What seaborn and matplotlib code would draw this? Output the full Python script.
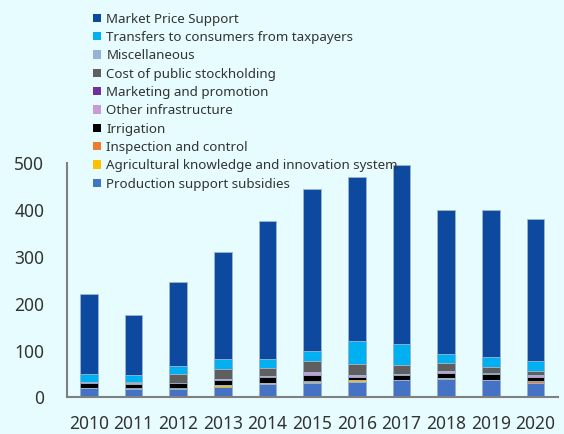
import numpy as np
import pandas as pd
import matplotlib.pyplot as plt
import seaborn as sns
from matplotlib.patches import Patch

years = ['2010', '2011', '2012', '2013', '2014', '2015', '2016', '2017', '2018', '2019', '2020']

# layers from bottom to top
production_support = [20.5, 18, 17, 23, 29, 31, 33, 37, 39, 37, 31]
akis = [0, 0, 0, 3, 2.5, 1, 5, 0, 3, 0, 0]
inspection = [0, 2.5, 2, 0, 0, 3, 0, 0, 0, 0, 3]
irrigation = [10.5, 8, 11, 11, 13, 12, 5, 10, 11, 13, 10]
other_infra = [1.5, 3, 0, 2, 2, 8, 5, 3, 3, 0, 3]
marketing = [0, 0, 0, 0, 0, 0, 0, 0, 0, 1.5, 0]
stockholding = [0.5, 1.5, 19, 21, 17, 23, 23, 20, 17, 13, 9]
miscellaneous = [0, 0, 0.5, 0, 0, 0, 0, 0, 0, 0, 1]
transfers = [16, 15, 18, 21, 18, 21, 50, 44, 20, 22, 20]
market_price = [171, 127, 179, 229, 296, 347, 349, 383, 308, 313, 304]

layers = [
    ('Production support subsidies', production_support, '#4472C4'),
    ('Agricultural knowledge and innovation system', akis, '#FFC000'),
    ('Inspection and control', inspection, '#ED7D31'),
    ('Irrigation', irrigation, '#000000'),
    ('Other infrastructure', other_infra, '#C89BD8'),
    ('Marketing and promotion', marketing, '#7030A0'),
    ('Cost of public stockholding', stockholding, '#5F5F5F'),
    ('Miscellaneous', miscellaneous, '#95B3D7'),
    ('Transfers to consumers from taxpayers', transfers, '#00B0F0'),
    ('Market Price Support', market_price, '#0D4A9F'),
]

bg = '#E6FCFF'
sns.set_style('white')
plt.rcParams['font.family'] = ['Noto Sans', 'DejaVu Sans']

fig = plt.figure(figsize=(5.64, 4.34), dpi=100, facecolor=bg)
ax = fig.add_axes([0.118, 0.0845, 0.871, 0.539])
ax.set_facecolor(bg)

# cumulative totals, drawn from the top layer down so lower layers sit in front
cum = np.cumsum(np.array([l[1] for l in layers], dtype=float), axis=0)
for i in range(len(layers) - 1, -1, -1):
    df = pd.DataFrame({'year': years, 'value': cum[i]})
    sns.barplot(data=df, x='year', y='value', color=layers[i][2], saturation=1,
                width=0.4, edgecolor='#9FB6CC', linewidth=0.6, ax=ax)

ax.set_xlim(-0.5, len(years) - 0.5)
ax.set_ylim(0, 500)
ax.set_yticks([0, 100, 200, 300, 400, 500])
ax.set_xlabel('')
ax.set_ylabel('')

ax.set_xticks(np.arange(-0.5, len(years), 1), minor=True)
ax.tick_params(axis='x', which='major', length=0, pad=13, labelsize=12.5, labelcolor='#333333')
ax.tick_params(axis='x', which='minor', length=7, width=1.5, color='#808080', direction='out')
ax.tick_params(axis='y', length=7, width=1.5, color='#808080', direction='out', pad=9,
               labelsize=12.5, labelcolor='#333333')

for s in ['top', 'right']:
    ax.spines[s].set_visible(False)
for s in ['left', 'bottom']:
    ax.spines[s].set_color('#808080')
    ax.spines[s].set_linewidth(1.5)

handles = [Patch(facecolor=c, edgecolor='none', label=n) for n, _, c in layers[::-1]]
fig.legend(handles=handles, loc='upper left', bbox_to_anchor=(0.165, 0.971),
           frameon=False, fontsize=9.6, handlelength=0.6, handleheight=0.6,
           handletextpad=0.4, labelspacing=0.40, borderaxespad=0, borderpad=0,
           labelcolor='#333333')

fig.savefig('out.png', dpi=100, facecolor=bg)
